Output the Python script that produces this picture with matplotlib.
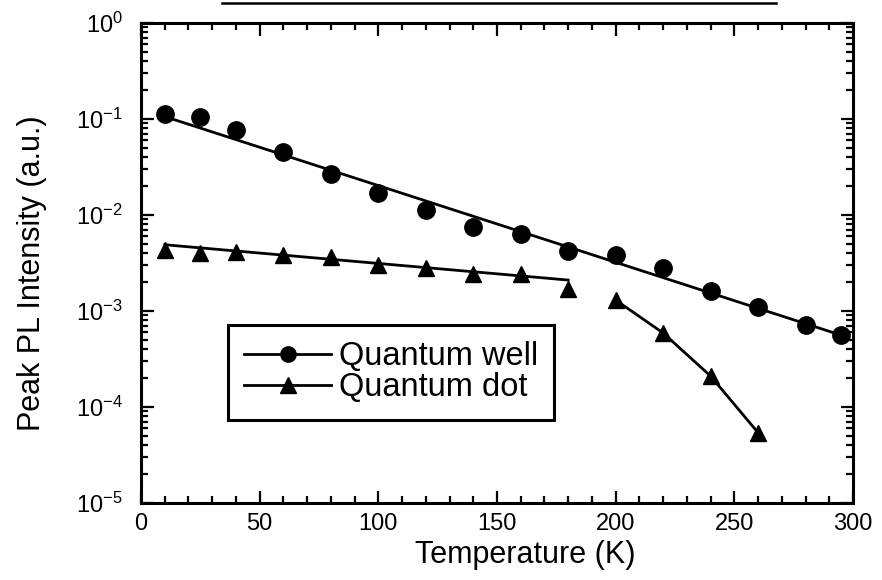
import matplotlib
matplotlib.use("Agg")
import matplotlib.pyplot as plt
from matplotlib.lines import Line2D
from matplotlib.ticker import LogLocator, MultipleLocator, LogFormatterSciNotation, NullFormatter

plt.rcParams['font.family'] = ['Liberation Sans', 'DejaVu Sans']
plt.rcParams['mathtext.default'] = 'regular'
plt.rcParams['axes.unicode_minus'] = False

# ---- data ----
qw_T = [10, 25, 40, 60, 80, 100, 120, 140, 160, 180, 200, 220, 240, 260, 280, 295]
qw_I = [0.113, 0.105, 0.077, 0.0453, 0.0267, 0.0169, 0.0113, 0.0075, 0.0063,
        0.0042, 0.0038, 0.0028, 0.00162, 0.0011, 0.00071, 0.00056]
qw_fit_T = [10, 295]
qw_fit_I = [0.106, 0.00056]

qd_T = [10, 25, 40, 60, 80, 100, 120, 140, 160, 180, 200, 220, 240, 260]
qd_I = [0.0043, 0.0040, 0.0041, 0.0038, 0.00365, 0.0030, 0.0028, 0.0024, 0.0024,
        0.0017, 0.0013, 0.00059, 0.00021, 0.000054]
qd_fit1_T = [10, 180]
qd_fit1_I = [0.0049, 0.0021]
qd_fit2_T = [200, 220, 240, 260]
qd_fit2_I = [0.0013, 0.00059, 0.00021, 0.000054]

x_ticks = [0, 50, 100, 150, 200, 250, 300]
labels = ["Quantum well", "Quantum dot"]

fig = plt.figure(figsize=(8.82, 5.8), dpi=100)
ax = fig.add_axes([141/882, 1-503/580, (853-141)/882, (503-23)/580])

lw = 2.0
ax.plot(qw_fit_T, qw_fit_I, color='black', lw=lw)
ax.plot(qw_T, qw_I, 'o', color='black', ms=12.5)
ax.plot(qd_fit1_T, qd_fit1_I, color='black', lw=lw)
ax.plot(qd_fit2_T, qd_fit2_I, color='black', lw=lw)
ax.plot(qd_T, qd_I, '^', color='black', ms=11.5)

ax.set_yscale('log')
ax.set_xlim(0, 300)
ax.set_ylim(1e-5, 1e0)
ax.set_xticks(x_ticks)
ax.xaxis.set_minor_locator(MultipleLocator(10))
ax.yaxis.set_major_locator(LogLocator(base=10, numticks=10))
ax.yaxis.set_minor_locator(LogLocator(base=10, subs=range(2, 10), numticks=20))
ax.yaxis.set_major_formatter(LogFormatterSciNotation())
ax.yaxis.set_minor_formatter(NullFormatter())

for s in ax.spines.values():
    s.set_linewidth(2.2)

ax.tick_params(which='both', direction='in', top=True, right=True, width=1.6)
ax.tick_params(which='major', length=9, labelsize=17)
ax.tick_params(axis='x', which='major', pad=7)
ax.tick_params(axis='y', which='major', pad=13)
ax.tick_params(which='minor', length=5)

ax.set_xlabel("Temperature (K)", fontsize=22)
ax.set_ylabel("Peak PL Intensity (a.u.)", fontsize=22)
ax.xaxis.set_label_coords(0.539, -0.077)
ax.yaxis.set_label_coords(-0.132, 0.479)

handles = [Line2D([], [], color='black', lw=lw, marker='o', ms=11),
           Line2D([], [], color='black', lw=lw, marker='^', ms=11)]
leg = ax.legend(handles, labels, loc='upper left', bbox_to_anchor=(0.122, 0.371),
                fontsize=23.5, frameon=True, fancybox=False, framealpha=1,
                edgecolor='black', handlelength=2.67, handletextpad=0.22,
                labelspacing=0.0, borderpad=0.5, borderaxespad=0)
leg.get_frame().set_linewidth(2.2)

# cut-off underline of a title at the very top of the image
fig.add_artist(Line2D([222/882, 776/882], [1-3/580, 1-3/580], color='black', lw=1.8))

fig.savefig("out.png", dpi=100)
